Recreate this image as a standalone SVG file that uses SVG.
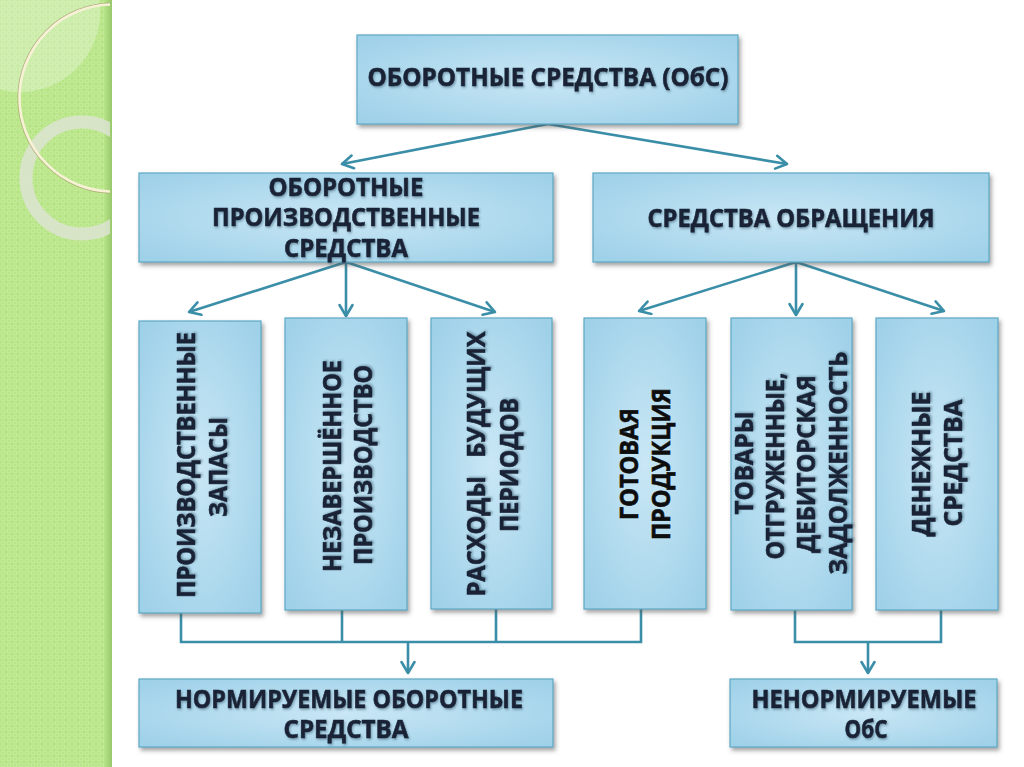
<svg xmlns="http://www.w3.org/2000/svg" width="1024" height="767" viewBox="0 0 1024 767">
<defs>
  <pattern id="dots" width="6" height="6" patternUnits="userSpaceOnUse">
    <rect width="6" height="6" fill="#b7e487"/>
    <circle cx="3" cy="3" r="2" fill="none" stroke="#c9ef9f" stroke-width="1"/>
  </pattern>
  <radialGradient id="boxg" cx="50%" cy="50%" r="65%">
    <stop offset="0" stop-color="#c9e7f5"/>
    <stop offset="1" stop-color="#9fd1e9"/>
  </radialGradient>
  <linearGradient id="edge" x1="0" x2="1" y1="0" y2="0">
    <stop offset="0" stop-color="#b7e487"/>
    <stop offset="1" stop-color="#8fbf63"/>
  </linearGradient>
  <filter id="shadow" x="-10%" y="-10%" width="125%" height="130%">
    <feDropShadow dx="2" dy="3" stdDeviation="2" flood-color="#555" flood-opacity="0.55"/>
  </filter>
  <filter id="tshadow" x="-5%" y="-20%" width="110%" height="150%">
    <feDropShadow dx="1" dy="1.5" stdDeviation="0.8" flood-color="#4a6a80" flood-opacity="0.6"/>
  </filter>
  <clipPath id="stripclip"><rect x="0" y="0" width="110" height="767"/></clipPath>
  <marker id="arr" viewBox="-14 -8 16 16" refX="0" refY="0" markerWidth="16" markerHeight="16" markerUnits="userSpaceOnUse" orient="auto">
    <path d="M-11,-6.5 L0,0 L-11,6.5" fill="none" stroke="#3a8ea7" stroke-width="2.6" stroke-linecap="round" stroke-linejoin="round"/>
  </marker>
  <style>
    .box{fill:url(#boxg);stroke:#5ea8c4;stroke-width:1.2;filter:url(#shadow)}
    .t{font-family:"Open Sans","Noto Sans","DejaVu Sans",sans-serif;font-weight:bold;font-size:25px;fill:#1a2336;stroke:#1a2336;stroke-width:0.6;text-anchor:middle;filter:url(#tshadow)}
    .tb{fill:#0d0d0d;stroke:#0d0d0d;filter:none}
    .c{fill:none;stroke:#3a8ea7;stroke-width:2.6}
  </style>
</defs>

<rect width="1024" height="767" fill="#ffffff"/>

<!-- decorative strip -->
<g id="strip">
  <rect x="0" y="0" width="112" height="767" fill="url(#dots)"/>
  <rect x="104" y="0" width="8" height="767" fill="url(#edge)" opacity="0.8"/>
  <g clip-path="url(#stripclip)">
    <circle cx="20" cy="12" r="80" fill="#ffffff" opacity="0.28"/>
    <circle cx="82" cy="178" r="56" fill="none" stroke="#dfe3d6" stroke-width="13" opacity="0.8"/>
    <circle cx="113" cy="98" r="95" fill="none" stroke="#a89870" stroke-width="1.2" opacity="0.7"/>
    <circle cx="113" cy="98" r="93.5" fill="none" stroke="#f7f1d6" stroke-width="2.6"/>
  </g>
</g>

<!-- connectors -->
<g id="connectors">
  <line class="c" x1="548" y1="124" x2="342" y2="164" marker-end="url(#arr)"/>
  <line class="c" x1="548" y1="124" x2="787" y2="164" marker-end="url(#arr)"/>
  <line class="c" x1="346" y1="262" x2="189" y2="312" marker-end="url(#arr)"/>
  <line class="c" x1="346" y1="262" x2="346" y2="316" marker-end="url(#arr)"/>
  <line class="c" x1="346" y1="262" x2="495" y2="312" marker-end="url(#arr)"/>
  <line class="c" x1="796" y1="262" x2="639" y2="311" marker-end="url(#arr)"/>
  <line class="c" x1="796" y1="262" x2="796" y2="315" marker-end="url(#arr)"/>
  <line class="c" x1="796" y1="262" x2="944" y2="311" marker-end="url(#arr)"/>
  <path class="c" d="M181,613 V642 H641 V609 M342,610 V642 M496,609 V642"/>
  <line class="c" x1="408" y1="642" x2="408" y2="673" marker-end="url(#arr)"/>
  <path class="c" d="M795,610 V642 H941 V610"/>
  <line class="c" x1="868" y1="642" x2="868" y2="673" marker-end="url(#arr)"/>
</g>

<g id="obs">
  <rect class="box" x="357" y="35" width="381" height="89"/>
  <text class="t" x="548" y="86" textLength="361" lengthAdjust="spacingAndGlyphs">ОБОРОТНЫЕ СРЕДСТВА (ОбС)</text>
</g>

<g id="prod">
  <rect class="box" x="139" y="173" width="414" height="89"/>
  <text class="t" x="346" y="196" textLength="155" lengthAdjust="spacingAndGlyphs">ОБОРОТНЫЕ</text>
  <text class="t" x="346" y="226" textLength="268" lengthAdjust="spacingAndGlyphs">ПРОИЗВОДСТВЕННЫЕ</text>
  <text class="t" x="346" y="257" textLength="124" lengthAdjust="spacingAndGlyphs">СРЕДСТВА</text>
</g>

<g id="obr">
  <rect class="box" x="593" y="173" width="396" height="89"/>
  <text class="t" x="791" y="227" textLength="287" lengthAdjust="spacingAndGlyphs">СРЕДСТВА ОБРАЩЕНИЯ</text>
</g>

<g id="zapasy">
  <rect class="box" x="139" y="321" width="122" height="292"/>
  <text class="t" transform="translate(0,465) rotate(-90)" x="0" y="195" textLength="266" lengthAdjust="spacingAndGlyphs">ПРОИЗВОДСТВЕННЫЕ</text>
  <text class="t" transform="translate(0,467) rotate(-90)" x="0" y="227" textLength="100" lengthAdjust="spacingAndGlyphs">ЗАПАСЫ</text>
</g>

<g id="nezav">
  <rect class="box" x="285" y="318" width="122" height="292"/>
  <text class="t" transform="translate(0,466) rotate(-90)" x="0" y="341" textLength="212" lengthAdjust="spacingAndGlyphs">НЕЗАВЕРШЁННОЕ</text>
  <text class="t" transform="translate(0,465) rotate(-90)" x="0" y="372" textLength="200" lengthAdjust="spacingAndGlyphs">ПРОИЗВОДСТВО</text>
</g>

<g id="rashody">
  <rect class="box" x="431" y="318" width="121" height="291"/>
  <text class="t" transform="translate(0,464) rotate(-90)" x="0" y="485" textLength="265" lengthAdjust="spacingAndGlyphs" xml:space="preserve">РАСХОДЫ   БУДУЩИХ</text>
  <text class="t" transform="translate(0,465) rotate(-90)" x="0" y="518" textLength="134" lengthAdjust="spacingAndGlyphs">ПЕРИОДОВ</text>
</g>

<g id="gotovaya">
  <rect class="box" x="584" y="318" width="122" height="291"/>
  <text class="t tb" transform="translate(0,464) rotate(-90)" x="0" y="638" textLength="112" lengthAdjust="spacingAndGlyphs">ГОТОВАЯ</text>
  <text class="t tb" transform="translate(0,464) rotate(-90)" x="0" y="670" textLength="152" lengthAdjust="spacingAndGlyphs">ПРОДУКЦИЯ</text>
</g>

<g id="tovary">
  <rect class="box" x="731" y="318" width="121" height="292"/>
  <text class="t" transform="translate(0,463) rotate(-90)" x="0" y="753" textLength="103" lengthAdjust="spacingAndGlyphs">ТОВАРЫ</text>
  <text class="t" transform="translate(0,466) rotate(-90)" x="0" y="784" textLength="187" lengthAdjust="spacingAndGlyphs">ОТГРУЖЕННЫЕ,</text>
  <text class="t" transform="translate(0,464) rotate(-90)" x="0" y="815" textLength="178" lengthAdjust="spacingAndGlyphs">ДЕБИТОРСКАЯ</text>
  <text class="t" transform="translate(0,463) rotate(-90)" x="0" y="847" textLength="223" lengthAdjust="spacingAndGlyphs">ЗАДОЛЖЕННОСТЬ</text>
</g>

<g id="denezhnye">
  <rect class="box" x="876" y="318" width="122" height="292"/>
  <text class="t" transform="translate(0,464) rotate(-90)" x="0" y="930" textLength="145" lengthAdjust="spacingAndGlyphs">ДЕНЕЖНЫЕ</text>
  <text class="t" transform="translate(0,463) rotate(-90)" x="0" y="962" textLength="127" lengthAdjust="spacingAndGlyphs">СРЕДСТВА</text>
</g>

<g id="norm">
  <rect class="box" x="139" y="679" width="414" height="68"/>
  <text class="t" x="349" y="708" textLength="348" lengthAdjust="spacingAndGlyphs">НОРМИРУЕМЫЕ ОБОРОТНЫЕ</text>
  <text class="t" x="346" y="738" textLength="125" lengthAdjust="spacingAndGlyphs">СРЕДСТВА</text>
</g>

<g id="nenorm">
  <rect class="box" x="730" y="679" width="267" height="68"/>
  <text class="t" x="864" y="708" textLength="225" lengthAdjust="spacingAndGlyphs">НЕНОРМИРУЕМЫЕ</text>
  <text class="t" x="866" y="738" textLength="43" lengthAdjust="spacingAndGlyphs">ОбС</text>
</g>
</svg>
